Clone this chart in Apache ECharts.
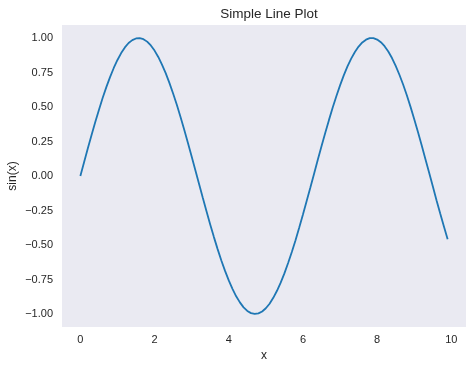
<!DOCTYPE html>
<html>
<head>
<meta charset="utf-8">
<script src="https://cdn.jsdelivr.net/npm/echarts@6/dist/echarts.min.js"></script>
<style>html,body{margin:0;padding:0;background:#fff}#c{width:474px;height:370px}</style>
</head>
<body>
<div id="c"></div>
<script>
const xValues = [0.0,0.1,0.2,0.3,0.4,0.5,0.6,0.7,0.8,0.9,1.0,1.1,1.2,1.3,1.4,1.5,1.6,1.7,1.8,1.9,2.0,2.1,2.2,2.3,2.4,2.5,2.6,2.7,2.8,2.9,3.0,3.1,3.2,3.3,3.4,3.5,3.6,3.7,3.8,3.9,4.0,4.1,4.2,4.3,4.4,4.5,4.6,4.7,4.8,4.9,5.0,5.1,5.2,5.3,5.4,5.5,5.6,5.7,5.8,5.9,6.0,6.1,6.2,6.3,6.4,6.5,6.6,6.7,6.8,6.9,7.0,7.1,7.2,7.3,7.4,7.5,7.6,7.7,7.8,7.9,8.0,8.1,8.2,8.3,8.4,8.5,8.6,8.7,8.8,8.9,9.0,9.1,9.2,9.3,9.4,9.5,9.6,9.7,9.8,9.9];
const yValues = [0.000,0.100,0.199,0.296,0.389,0.479,0.565,0.644,0.717,0.783,0.841,0.891,0.932,0.964,0.985,0.997,1.000,0.992,0.974,0.946,0.909,0.863,0.808,0.746,0.675,0.598,0.516,0.427,0.335,0.239,0.141,0.042,-0.058,-0.158,-0.256,-0.351,-0.443,-0.530,-0.612,-0.688,-0.757,-0.818,-0.872,-0.916,-0.952,-0.978,-0.994,-1.000,-0.996,-0.982,-0.959,-0.926,-0.883,-0.832,-0.773,-0.706,-0.631,-0.551,-0.465,-0.374,-0.279,-0.182,-0.083,0.017,0.117,0.215,0.312,0.405,0.494,0.578,0.657,0.729,0.794,0.851,0.899,0.938,0.968,0.988,0.999,0.999,0.989,0.970,0.941,0.902,0.855,0.798,0.734,0.663,0.585,0.501,0.412,0.319,0.223,0.124,0.025,-0.075,-0.175,-0.272,-0.366,-0.458];
const xTicks = [0,2,4,6,8,10];
const yTicks = [-1.00,-0.75,-0.50,-0.25,0.00,0.25,0.50,0.75,1.00];
const titleText = 'Simple Line Plot';
const xName = 'x';
const yName = 'sin(x)';

const font = '"Liberation Sans", Arial, sans-serif';
const textColor = '#262626';
const chart = echarts.init(document.getElementById('c'), null, {renderer: 'canvas'});
chart.setOption({
  animation: false,
  backgroundColor: '#ffffff',
  title: {
    text: titleText, left: 264, top: 2, textAlign: 'center',
    textStyle: {fontFamily: font, fontSize: 13.5, fontWeight: 'normal', color: textColor}
  },
  grid: {left: 62, top: 25, right: 8, bottom: 43, show: true, backgroundColor: '#EAEAF2', borderWidth: 0,
    containLabel: false, outerBoundsMode: 'none'},
  xAxis: {
    type: 'value', min: -0.495, max: 10.395,
    name: xName, nameLocation: 'middle', nameGap: 23, nameMoveOverlap: false,
    nameTextStyle: {fontFamily: font, fontSize: 12, color: textColor},
    axisLine: {show: false}, axisTick: {show: false}, splitLine: {show: false},
    axisLabel: {customValues: xTicks, margin: 7, fontFamily: font, fontSize: 11, color: textColor,
      formatter: v => String(v)}
  },
  yAxis: {
    type: 'value', min: -1.0945, max: 1.0945,
    name: yName, nameLocation: 'middle', nameGap: 43, nameMoveOverlap: false,
    nameTextStyle: {fontFamily: font, fontSize: 12, color: textColor},
    axisLine: {show: false}, axisTick: {show: false}, splitLine: {show: false},
    axisLabel: {customValues: yTicks, margin: 9, fontFamily: font, fontSize: 11, color: textColor,
      formatter: v => (v < 0 ? '\u2212' + Math.abs(v).toFixed(2) : v.toFixed(2))}
  },
  series: [{
    type: 'line', showSymbol: false, symbol: 'none',
    data: xValues.map((x, i) => [x, yValues[i]]),
    lineStyle: {color: '#1f77b4', width: 1.8},
    itemStyle: {color: '#1f77b4'}
  }]
});
</script>
</body>
</html>
